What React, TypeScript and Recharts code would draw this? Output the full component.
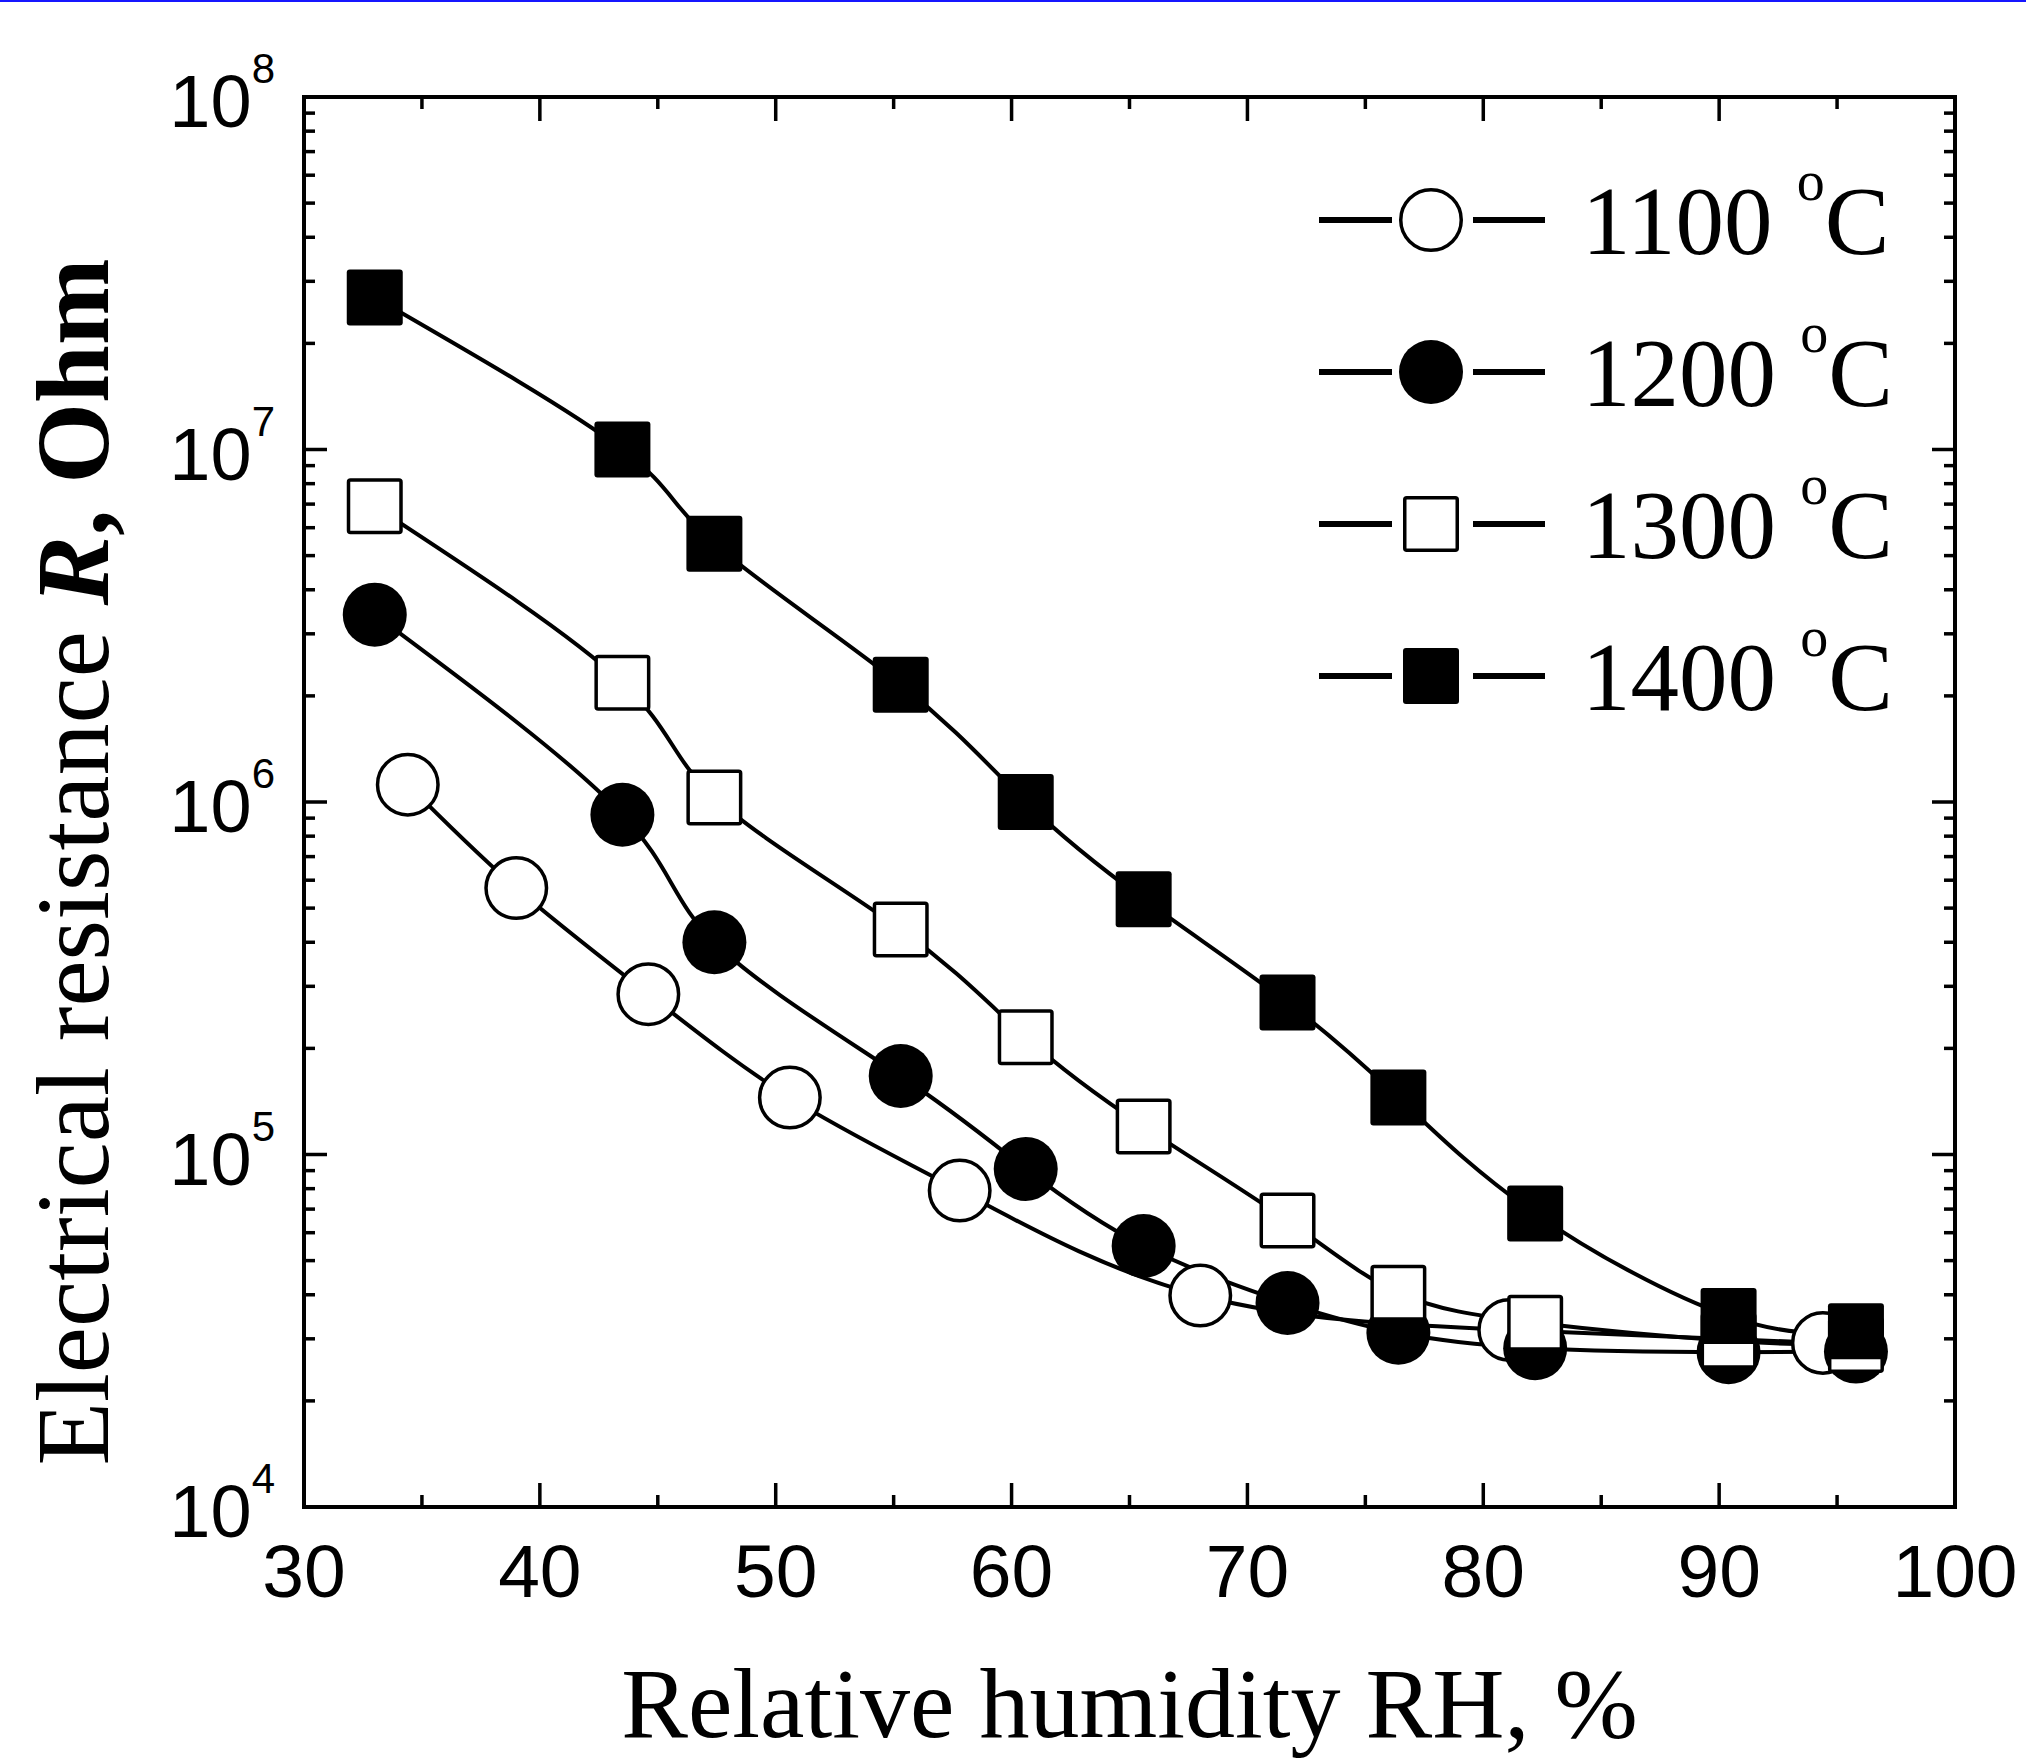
import React from 'react';
import { LineChart, Line, XAxis, YAxis, Legend, Label } from 'recharts';

// ── Data: relative humidity (%) vs resistance (Ohm) ─────────
const RH_1100 = [34.4, 39.0, 44.6, 50.6, 57.8, 68.0, 81.1, 94.4];
const R_1100 = [1.12e6, 5.7e5, 2.85e5, 1.45e5, 7.9e4, 3.98e4, 3.18e4, 2.92e4];

const RH_MAIN = [33.0, 43.5, 47.4, 55.3, 60.6, 65.6, 71.7, 76.4, 82.2, 90.4, 95.8];
const R_1200 = [3.4e6, 9.2e5, 4.0e5, 1.67e5, 9.1e4, 5.5e4, 3.79e4, 3.12e4, 2.82e4, 2.75e4, 2.76e4];
const R_1300 = [6.9e6, 2.18e6, 1.03e6, 4.35e5, 2.15e5, 1.2e5, 6.5e4, 4.05e4, 3.33e4, 2.96e4, 2.88e4];
const R_1400 = [2.7e7, 1.0e7, 5.4e6, 2.15e6, 1.0e6, 5.3e5, 2.7e5, 1.45e5, 6.8e4, 3.48e4, 3.15e4];

const SERIES_LABELS = ['1100', '1200', '1300', '1400'];
const SERIES_SHAPES = ['openCircle', 'circle', 'openSquare', 'square'];

// ── Axes ───────────────────────────────────────────────────
const X_MAJOR = [30, 40, 50, 60, 70, 80, 90, 100];
const X_MINOR = [35, 45, 55, 65, 75, 85, 95];
const Y_EXPONENTS = [4, 5, 6, 7, 8];
const Y_MAJOR = Y_EXPONENTS.map(e => Math.pow(10, e));
const Y_MINOR_MULT = [2, 3, 4, 5, 6, 7, 8, 9];
const Y_MINOR = Y_EXPONENTS.slice(0, -1).flatMap(e => Y_MINOR_MULT.map(m => m * Math.pow(10, e)));

const X_TICKS = [...X_MAJOR, ...X_MINOR].sort((a, b) => a - b);
const Y_TICKS = [...Y_MAJOR, ...Y_MINOR].sort((a, b) => a - b);

const SANS = "'Liberation Sans', Arial, sans-serif";
const SERIF = "'Liberation Serif', 'Times New Roman', serif";
const INK = '#000';

const toPoints = (xs: number[], ys: number[]) => xs.map((x, i) => ({ x, y: ys[i] }));
const SERIES_DATA = [
  toPoints(RH_1100, R_1100),
  toPoints(RH_MAIN, R_1200),
  toPoints(RH_MAIN, R_1300),
  toPoints(RH_MAIN, R_1400),
];

// ── Markers ────────────────────────────────────────────────
function Marker({ shape, cx, cy }: { shape: string; cx: number; cy: number }) {
  const sw = 3.5;
  const round = shape.toLowerCase().includes('circle');
  const s = round ? 64 : 56;
  if (shape === 'circle') return <circle cx={cx} cy={cy} r={s / 2} fill={INK} />;
  if (shape === 'openCircle')
    return <circle cx={cx} cy={cy} r={(s - sw) / 2} fill="#fff" stroke={INK} strokeWidth={sw} />;
  if (shape === 'square') return <rect x={cx - s / 2} y={cy - s / 2} width={s} height={s} rx={3} fill={INK} />;
  return (
    <rect x={cx - (s - sw) / 2} y={cy - (s - sw) / 2} width={s - sw} height={s - sw} rx={2}
      fill="#fff" stroke={INK} strokeWidth={sw} />
  );
}

const makeDot = (shape: string) => (p: any) => (
  <g key={`${shape}-${p.index}`}>
    <Marker shape={shape} cx={p.cx} cy={p.cy} />
  </g>
);

// ── Ticks (drawn inside the frame) ─────────────────────────
function LeftTick({ x, y, payload }: any) {
  const v = payload.value;
  const idx = Y_MAJOR.indexOf(v);
  const major = idx >= 0;
  return (
    <g>
      <line x1={x} x2={x + (major ? 23 : 11)} y1={y} y2={y} stroke={INK} strokeWidth={3.5} />
      {major && (
        <text x={x - 29} y={y + 30} textAnchor="end" fontFamily={SANS} fontSize={74} fill={INK}>
          10<tspan fontSize={42} dy={-44}>{Y_EXPONENTS[idx]}</tspan>
        </text>
      )}
    </g>
  );
}

function RightTick({ x, y, payload }: any) {
  const major = Y_MAJOR.includes(payload.value);
  return <line x1={x} x2={x - (major ? 23 : 11)} y1={y} y2={y} stroke={INK} strokeWidth={3.5} />;
}

function BottomTick({ x, y, payload }: any) {
  const v = payload.value;
  const major = X_MAJOR.includes(v);
  return (
    <g>
      <line x1={x} x2={x} y1={y} y2={y - (major ? 24 : 12)} stroke={INK} strokeWidth={3.5} />
      {major && (
        <text x={x} y={y + 90} textAnchor="middle" fontFamily={SANS} fontSize={75} fill={INK}>{v}</text>
      )}
    </g>
  );
}

function TopTick({ x, y, payload }: any) {
  const major = X_MAJOR.includes(payload.value);
  return <line x1={x} x2={x} y1={y} y2={y + (major ? 24 : 12)} stroke={INK} strokeWidth={3.5} />;
}

// ── Titles ─────────────────────────────────────────────────
function YTitle({ viewBox }: any) {
  const x = viewBox.x + 44;
  const y = viewBox.y + viewBox.height / 2 + 60;
  return (
    <text x={x} y={y} transform={`rotate(-90 ${x} ${y})`} textAnchor="middle" fontFamily={SERIF} fontSize={104} fill={INK}
      style={{ whiteSpace: 'pre' }}>
      Electrical resistance <tspan fontWeight="bold" fontStyle="italic">R</tspan>
      <tspan fontWeight="bold">, Ohm</tspan>
    </text>
  );
}

function XTitle({ viewBox }: any) {
  return (
    <text x={viewBox.x + viewBox.width / 2} y={viewBox.y + 230} textAnchor="middle" fontFamily={SERIF} fontSize={100} fill={INK}>
      Relative humidity RH, %
    </text>
  );
}

// ── Legend ─────────────────────────────────────────────────
function LegendBox() {
  return (
    <svg width={620} height={620} style={{ display: 'block' }}>
      {SERIES_LABELS.map((label, i) => {
        const cy = 80 + i * 152;
        return (
          <g key={label}>
            <line x1={19} x2={92} y1={cy} y2={cy} stroke={INK} strokeWidth={6} />
            <line x1={173} x2={245} y1={cy} y2={cy} stroke={INK} strokeWidth={6} />
            <Marker shape={SERIES_SHAPES[i]} cx={131} cy={cy} />
            <text x={282} y={cy + 34} fontFamily={SERIF} fontSize={97} fill={INK} style={{ whiteSpace: 'pre' }}>
              {label + ' '}
              <tspan fontSize={56} dy={-54}>o</tspan>
              <tspan fontSize={97} dy={54}>C</tspan>
            </text>
          </g>
        );
      })}
    </svg>
  );
}

export default function App() {
  const frame = { stroke: INK, strokeWidth: 4, strokeLinecap: 'square' as const };
  return (
    <div style={{ position: 'absolute', left: 0, top: 0, width: 2026, height: 1758, background: '#fff' }}>
      <div style={{ position: 'absolute', left: 0, top: 0, width: 2026, height: 2, background: '#1616ff' }} />
      <LineChart width={2026} height={1758} margin={{ top: 87, right: 61, bottom: 131, left: 64 }}>
        <XAxis xAxisId="b" dataKey="x" type="number" domain={[30, 100]} ticks={X_TICKS} interval={0}
          allowDataOverflow height={120} tickSize={0} tickMargin={0} tickLine={false} axisLine={frame} tick={BottomTick}>
          <Label content={XTitle} />
        </XAxis>
        <XAxis xAxisId="t" orientation="top" dataKey="x" type="number" domain={[30, 100]} ticks={X_TICKS} interval={0}
          allowDataOverflow height={10} tickSize={0} tickMargin={0} tickLine={false} axisLine={frame} tick={TopTick} />
        <YAxis yAxisId="l" type="number" scale="log" domain={[1e4, 1e8]} ticks={Y_TICKS} interval={0}
          allowDataOverflow width={240} tickSize={0} tickMargin={0} tickLine={false} axisLine={frame} tick={LeftTick}>
          <Label content={YTitle} />
        </YAxis>
        <YAxis yAxisId="r" orientation="right" type="number" scale="log" domain={[1e4, 1e8]} ticks={Y_TICKS} interval={0}
          allowDataOverflow width={10} tickSize={0} tickMargin={0} tickLine={false} axisLine={frame} tick={RightTick} />
        {SERIES_DATA.map((data, i) => (
          <Line key={SERIES_LABELS[i]} xAxisId="b" yAxisId="l" data={data} dataKey="y" name={SERIES_LABELS[i]}
            type="natural" stroke={INK} strokeWidth={4} dot={makeDot(SERIES_SHAPES[i])} activeDot={false}
            isAnimationActive={false} />
        ))}
        <Legend layout="horizontal" verticalAlign="middle" align="center" content={LegendBox}
          wrapperStyle={{ left: 1300, top: 140, width: 620, height: 620 }} />
      </LineChart>
    </div>
  );
}
